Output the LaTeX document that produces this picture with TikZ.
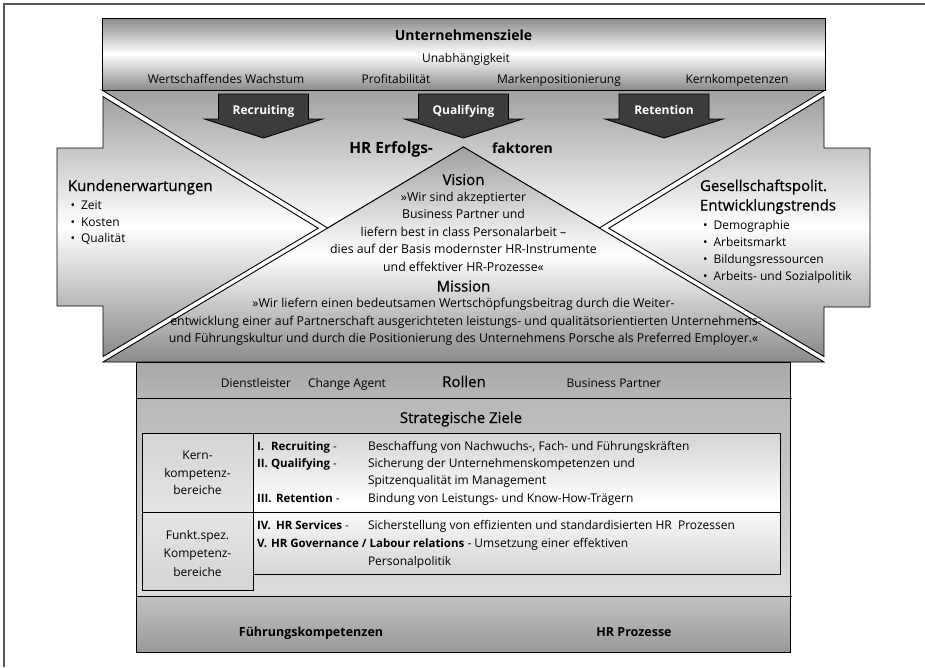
\documentclass[tikz,border=0pt]{standalone}
\usepackage{fontspec}
\setmainfont{Open Sans}
\newfontfamily\medfont{Open Sans}[FakeBold=0.6]
\usetikzlibrary{calc}
\definecolor{edgegray}{HTML}{8A8A8A}
\definecolor{midgray}{HTML}{A0A0A0}
\definecolor{arrowfill}{HTML}{3C3C3C}
\definecolor{rollgray}{HTML}{A8A8A8}
\definecolor{framegray}{HTML}{555555}
\definecolor{stratop}{HTML}{B8B8B8}
\definecolor{strabot}{HTML}{DCDCDC}
\definecolor{celltop}{HTML}{D4D4D4}
\definecolor{bottop}{HTML}{C2C2C2}
\definecolor{botbot}{HTML}{999999}
\newcommand\dnarrow[3]{%
  \path[outline, fill=arrowfill] (#1-45,94) -- (#1+45,94) -- (#1+45,119) -- (#1+59,119) -- (#1,138) -- (#1-59,119) -- (#1-45,119) -- cycle;
  \node[arrlabel] (#2) at (#1,114.5) {#3};}
\begin{document}
\begin{tikzpicture}[x=1pt,y=-1pt,
  every node/.style={inner sep=0pt, outer sep=0pt},
  body/.style={font=\fontsize{12}{14}\selectfont, anchor=base},
  vbody/.style={font=\fontsize{12.3}{14}\selectfont, anchor=base},
  head/.style={font=\medfont\fontsize{15}{17}\selectfont, anchor=base},
  bhead/.style={font=\bfseries\fontsize{14}{16}\selectfont, anchor=base},
  tlabel/.style={font=\bfseries\fontsize{11.5}{14}\selectfont, anchor=base west},
  arrlabel/.style={font=\bfseries\fontsize{12}{14}\selectfont, text=white, anchor=base},
  outline/.style={draw=black, line width=0.9pt, line join=miter},
]
\useasboundingbox (0,0) rectangle (925,667);
% frame
\draw[framegray, line width=1.3pt] (4,667) -- (4,4) -- (925,4);

% upper central region
\path[outline, top color=midgray, bottom color=white]
  (102,90) -- (825,90) -- (599.3,228) -- (463.5,147) -- (327.7,228) -- cycle;
% left arrow
\path[outline, top color=midgray, bottom color=edgegray, middle color=white]
  (103,96.6) -- (318.2,228.2) -- (103,356.5) -- (103,306) -- (57,306) -- (57,148) -- (103,148) -- cycle;
% right arrow
\path[outline, top color=midgray, bottom color=edgegray, middle color=white]
  (824,96.6) -- (608.8,228.2) -- (824,356.5) -- (824,307) -- (870,307) -- (870,148) -- (824,148) -- cycle;
% vision triangle
\path[outline, top color=midgray, bottom color=edgegray, middle color=white]
  (463.5,147) -- (824,362) -- (103,362) -- cycle;
% top box
\path[outline, top color=edgegray, bottom color=edgegray, middle color=white]
  (102,18) rectangle (825,90);

% down arrows
\dnarrow{263.5}{arec}{Recruiting}
\dnarrow{463.5}{aqual}{Qualifying}
\dnarrow{664}{aret}{Retention}

% top box text
\node[bhead] (uz) at (463.5,40) {Unternehmensziele};
\node[body] (un) at (466,62) {Unabhängigkeit};
\node[body] (ws) at (226,83.5) {Wertschaffendes Wachstum};
\node[body] (pr) at (396,83.5) {Profitabilität};
\node[body] (mp) at (559,83.5) {Markenpositionierung};
\node[body] (kk) at (737,83.5) {Kernkompetenzen};

% HR Erfolgsfaktoren
\node[bhead, font=\bfseries\fontsize{15.5}{17}\selectfont, anchor=base east] (hre) at (433,153.5) {HR Erfolgs-};
\node[bhead, anchor=base west] (fak) at (492,153.5) {faktoren};

% Vision
\node[head] (vis) at (463.5,185) {Vision};
\node[vbody] (v1) at (463.5,201) {»Wir sind akzeptierter};
\node[vbody] (v2) at (463.5,218.5) {Business Partner und};
\node[vbody] (v3) at (463.5,236) {liefern best in class Personalarbeit –};
\node[vbody] (v4) at (463.5,253.5) {dies auf der Basis modernster HR-Instrumente};
\node[vbody] (v5) at (463.5,271) {und effektiver HR-Prozesse«};
% Mission
\node[head] (mis) at (463.5,291.5) {Mission};
\node[vbody] (m1) at (463.5,307.5) {»Wir liefern einen bedeutsamen Wertschöpfungsbeitrag durch die Weiter-};
\node[vbody] (m2) at (466,325) {entwicklung einer auf Partnerschaft ausgerichteten leistungs- und qualitätsorientierten Unternehmens-};
\node[vbody] (m3) at (463.5,342.5) {und Führungskultur und durch die Positionierung des Unternehmens Porsche als Preferred Employer.«};

% Kundenerwartungen
\node[head, anchor=base west] (ke) at (68,191) {Kundenerwartungen};
\node[body, anchor=base west] (k1) at (70.5,209.5) {•\hspace{6pt}Zeit};
\node[body, anchor=base west] (k2) at (70.5,226) {•\hspace{6pt}Kosten};
\node[body, anchor=base west] (k3) at (70.5,242.5) {•\hspace{6pt}Qualität};

% Gesellschaftspolit.
\node[head, anchor=base west] (gp) at (700,191) {Gesellschaftspolit.};
\node[head, anchor=base west] (et) at (700,210.5) {Entwicklungstrends};
\node[body, anchor=base west] (g1) at (703,229.5) {•\hspace{6pt}Demographie};
\node[body, anchor=base west] (g2) at (703,246) {•\hspace{6pt}Arbeitsmarkt};
\node[body, anchor=base west] (g3) at (703,263) {•\hspace{6pt}Bildungsressourcen};
\node[body, anchor=base west] (g4) at (703,280) {•\hspace{6pt}Arbeits- und Sozialpolitik};

% Rollen strip
\path[outline, top color=rollgray, bottom color=rollgray!85!white] (136,362) rectangle (790,398);
% Strategic area
\path[outline, top color=stratop, bottom color=strabot] (136,398) rectangle (790,596);
% bottom box
\path[outline, top color=bottop, bottom color=botbot] (136,596) rectangle (790,652);
\draw[black, line width=0.9pt] (136,398) -- (792,398);
\draw[black, line width=0.9pt] (136,596) -- (792,596);

\node[body] (r1) at (256,387) {Dienstleister};
\node[body] (r2) at (347,387) {Change Agent};
\node[head] (rol) at (464,387) {Rollen};
\node[body] (r3) at (614,387) {Business Partner};

\node[head] (sz) at (461,423) {Strategische Ziele};

% table
\path[outline, top color=celltop, bottom color=celltop, middle color=white] (253,433) rectangle (780,574);
\draw[black, line width=0.9pt] (253,512) -- (780,512);
\path[outline, top color=celltop, bottom color=celltop!60!white] (142,433) rectangle (253,512);
\path[outline, top color=celltop!60!white, bottom color=celltop] (142,512) rectangle (253,590);

\node[body] (lk1) at (197.5,459.5) {Kern-};
\node[body] (lk2) at (197.5,477.5) {kompetenz-};
\node[body] (lk3) at (197.5,494.5) {bereiche};
\node[body] (lf1) at (197.5,539.5) {Funkt.spez.};
\node[body] (lf2) at (197.5,557.5) {Kompetenz-};
\node[body] (lf3) at (197.5,576) {bereiche};

\node[tlabel] (n1) at (257,450.5) {I.};
\node[tlabel] (t1) at (271,450.5) {Recruiting\mdseries\ -};
\node[body, anchor=base west] (d1) at (368,450.5) {Beschaffung von Nachwuchs-, Fach- und Führungskräften};
\node[tlabel] (n2) at (257,467.5) {II.};
\node[tlabel] (t2) at (271,467.5) {Qualifying\mdseries\ -};
\node[body, anchor=base west] (d2) at (368,467.5) {Sicherung der Unternehmenskompetenzen und};
\node[body, anchor=base west] (d2b) at (368,484.5) {Spitzenqualität im Management};
\node[tlabel] (n3) at (257,502.5) {III.};
\node[tlabel] (t3) at (276,502.5) {Retention\mdseries\ -};
\node[body, anchor=base west] (d3) at (368,502.5) {Bindung von Leistungs- und Know-How-Trägern};
\node[tlabel] (n4) at (257,529.5) {IV.};
\node[tlabel] (t4) at (276,529.5) {HR Services\mdseries\ -};
\node[body, anchor=base west] (d4) at (368,529.5) {Sicherstellung von effizienten und standardisierten HR\ \ Prozessen};
\node[tlabel] (n5) at (257,547) {V.};
\node[tlabel] (t5) at (271,547) {HR Governance / Labour relations\mdseries\fontsize{12}{14}\selectfont\ - Umsetzung einer effektiven};
\node[body, anchor=base west] (d5) at (368,565) {Personalpolitik};

\node[bhead, font=\bfseries\fontsize{12.5}{15}\selectfont] (fk) at (311,636) {Führungskompetenzen};
\node[bhead, font=\bfseries\fontsize{12.5}{15}\selectfont] (hp) at (634,636) {HR Prozesse};
\end{tikzpicture}
\end{document}
